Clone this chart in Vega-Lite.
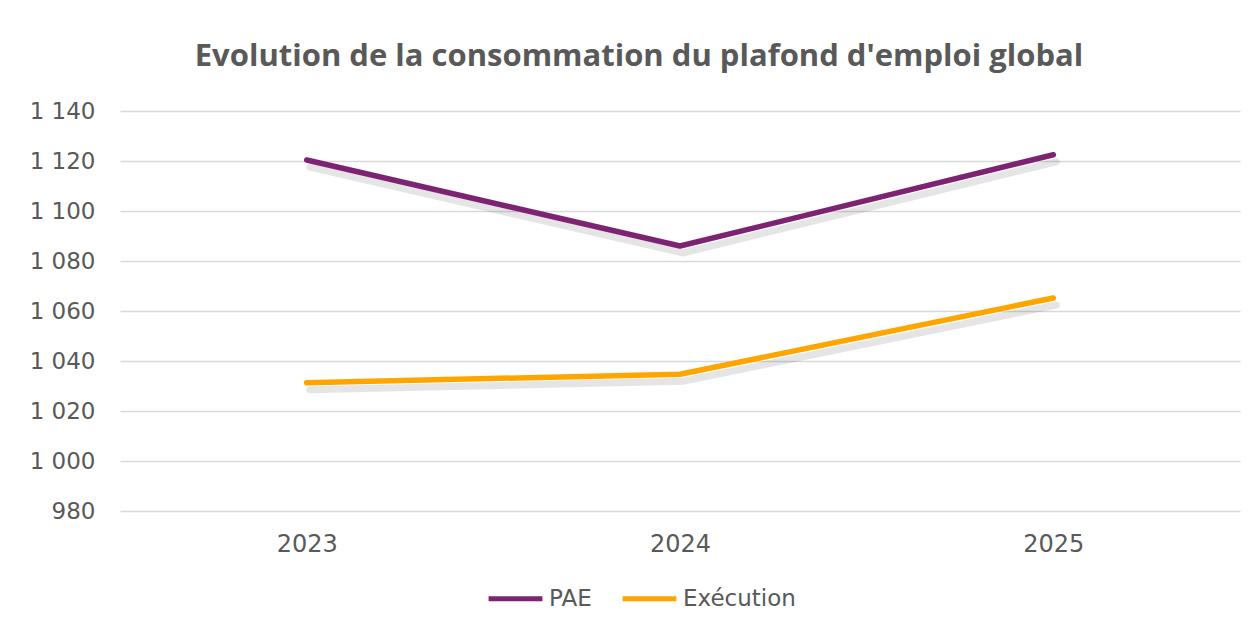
{
  "$schema": "https://vega.github.io/schema/vega-lite/v6.json",
  "width": 1120,
  "height": 400,
  "autosize": {"type": "none"},
  "padding": {"left": 120, "top": 111, "right": 16, "bottom": 116},
  "background": "white",
  "title": {
    "text": "Evolution de la consommation du plafond d'emploi global",
    "font": "Open Sans",
    "fontSize": 31,
    "fontWeight": "bold",
    "color": "#595959",
    "anchor": "middle",
    "baseline": "alphabetic",
    "offset": 3,
    "dx": -41
  },
  "data": {
    "values": [
      {"year": "2023", "series": "PAE", "value": 1120.4},
      {"year": "2024", "series": "PAE", "value": 1086},
      {"year": "2025", "series": "PAE", "value": 1122.5},
      {"year": "2023", "series": "Exécution", "value": 1031.3},
      {"year": "2024", "series": "Exécution", "value": 1034.7},
      {"year": "2025", "series": "Exécution", "value": 1065.2}
    ]
  },
  "encoding": {
    "x": {
      "field": "year",
      "type": "ordinal",
      "scale": {"type": "point", "padding": 0.5},
      "axis": {
        "title": null,
        "domain": false,
        "ticks": false,
        "grid": false,
        "labelAngle": 0,
        "labelFont": "DejaVu Sans",
        "labelFontSize": 24,
        "labelColor": "#595959",
        "labelPadding": 21
      }
    },
    "y": {
      "field": "value",
      "type": "quantitative",
      "scale": {"domain": [980, 1140], "nice": false, "zero": false},
      "axis": {
        "title": null,
        "domain": false,
        "ticks": false,
        "values": [980, 1000, 1020, 1040, 1060, 1080, 1100, 1120, 1140],
        "labelExpr": "replace(format(datum.value, ',d'), ',', ' ')",
        "labelFont": "DejaVu Sans",
        "labelFontSize": 23,
        "labelColor": "#595959",
        "labelPadding": 25,
        "gridColor": "#d9d9d9",
        "gridWidth": 1.5
      }
    }
  },
  "layer": [
    {
      "mark": {"type": "line", "strokeWidth": 7, "color": "#000000", "opacity": 0.1, "xOffset": 3, "yOffset": 7, "strokeCap": "round", "strokeJoin": "round"},
      "encoding": {
        "detail": {"field": "series"}
      }
    },
    {
      "mark": {"type": "line", "strokeWidth": 5.5, "strokeCap": "round", "strokeJoin": "round"},
      "encoding": {
        "color": {
          "field": "series",
          "type": "nominal",
          "scale": {"domain": ["PAE", "Exécution"], "range": ["#7E2371", "#FFA500"]},
          "legend": {
            "title": null,
            "orient": "none",
            "direction": "horizontal",
            "legendX": 366,
            "legendY": 458,
            "symbolType": "stroke",
            "symbolSize": 2900,
            "symbolStrokeWidth": 5,
            "labelFont": "DejaVu Sans",
            "labelFontSize": 23,
            "labelColor": "#595959",
            "labelOffset": 4,
            "columnPadding": 20
          }
        }
      }
    }
  ],
  "config": {"view": {"stroke": null}}
}
